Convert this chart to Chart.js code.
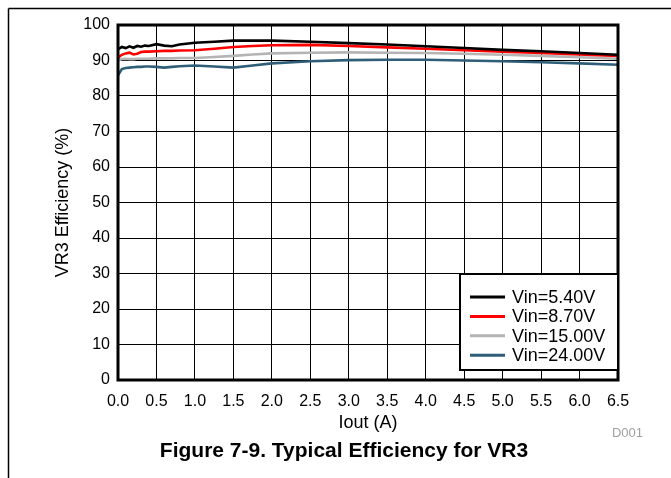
<!DOCTYPE html>
<html><head><meta charset="utf-8">
<script src="https://cdn.jsdelivr.net/npm/chart.js@4/dist/chart.umd.min.js"></script>
<style>html,body{margin:0;padding:0;background:#fff;} canvas{display:block;}</style>
</head><body>
<canvas id="c" width="671" height="478"></canvas>
<script>
// ---- data ----
const iout    = [0.0, 0.05, 0.1, 0.15, 0.2, 0.25, 0.3, 0.35, 0.4, 0.5, 0.6, 0.7, 0.8, 1.0, 1.25, 1.5, 1.75, 2.0, 2.5, 3.0, 3.5, 4.0, 4.5, 5.0, 5.5, 6.0, 6.5];
const eff5v40 = [93.2, 93.8, 93.5, 94.0, 93.6, 94.1, 93.9, 94.2, 94.1, 94.6, 94.2, 94.0, 94.5, 95.0, 95.3, 95.6, 95.6, 95.6, 95.3, 94.9, 94.5, 94.0, 93.5, 93.0, 92.6, 92.1, 91.6];
const eff8v70 = [90.8, 91.6, 92.0, 92.2, 91.7, 91.9, 92.4, 92.5, 92.5, 92.6, 92.7, 92.7, 92.8, 92.9, 93.3, 93.8, 94.1, 94.3, 94.4, 94.1, 93.7, 93.3, 92.9, 92.5, 92.1, 91.7, 91.3];
const eff15v  = [90.0, 90.4, 90.5, 90.4, 90.4, 90.5, 90.5, 90.5, 90.5, 90.6, 90.6, 90.6, 90.7, 90.7, 91.0, 91.3, 91.7, 92.0, 92.2, 92.3, 92.2, 92.1, 91.9, 91.6, 91.3, 90.9, 90.5];
const eff24v  = [85.8, 87.6, 87.9, 88.0, 88.1, 88.2, 88.2, 88.3, 88.3, 88.2, 88.0, 88.2, 88.4, 88.6, 88.3, 88.0, 88.6, 89.2, 89.8, 90.1, 90.2, 90.2, 90.0, 89.8, 89.5, 89.2, 88.8];
const seriesLabels = ['Vin=5.40V', 'Vin=8.70V', 'Vin=15.00V', 'Vin=24.00V'];
const seriesValues = [eff5v40, eff8v70, eff15v, eff24v];
const seriesColors = ['#000000', '#ff0000', '#b4b4b4', '#2f5f78'];
const xTicksMin = 0, xTicksMax = 6.5, xTickStep = 0.5;
const yTicksMin = 0, yTicksMax = 100, yTickStep = 10;
const xTitle = 'Iout (A)';
const yTitle = 'VR3 Efficiency (%)';
const figTitle = 'Figure 7-9. Typical Efficiency for VR3';
const figCode = 'D001';

const FONT = "'Liberation Sans', Arial, Helvetica, sans-serif";

const datasets = seriesValues.map((vals, k) => ({
  label: seriesLabels[k],
  data: iout.map((x, i) => ({x: x, y: vals[i]})),
  borderColor: seriesColors[k],
  backgroundColor: seriesColors[k],
  borderWidth: 2.6,
  pointRadius: 0,
  tension: 0,
  fill: false,
  order: k
}));

const decor = {
  id: 'decor',
  beforeDraw(chart) {
    const ctx = chart.ctx;
    ctx.save();
    ctx.fillStyle = '#fff';
    ctx.fillRect(0, 0, chart.width, chart.height);
    ctx.strokeStyle = '#000';
    ctx.lineWidth = 1.5;
    ctx.beginPath();
    ctx.moveTo(8.5, 8.5); ctx.lineTo(chart.width, 8.5);
    ctx.moveTo(8.5, 8.5); ctx.lineTo(8.5, chart.height);
    ctx.stroke();
    ctx.restore();
  },
  afterDraw(chart) {
    const ctx = chart.ctx;
    const a = chart.chartArea;
    ctx.save();
    // plot frame
    ctx.strokeStyle = '#000';
    ctx.lineWidth = 3;
    ctx.strokeRect(a.left, a.top, a.right - a.left, a.bottom - a.top);
    // legend box
    const lx = 460, ly = 274, lw = a.right - 460, lh = 96;
    ctx.fillStyle = '#fff';
    ctx.fillRect(lx, ly, lw, lh);
    ctx.lineWidth = 2;
    ctx.strokeRect(lx, ly, lw, lh);
    ctx.font = '18px ' + FONT;
    ctx.textBaseline = 'middle';
    ctx.textAlign = 'left';
    chart.data.datasets.forEach((ds, k) => {
      const y = 297 + k * 19.4;
      ctx.strokeStyle = ds.borderColor;
      ctx.lineWidth = 3;
      ctx.beginPath();
      ctx.moveTo(470, y); ctx.lineTo(505, y);
      ctx.stroke();
      ctx.fillStyle = '#000';
      ctx.fillText(ds.label, 512, y + 1);
    });
    // code
    ctx.font = '13px ' + FONT;
    ctx.fillStyle = '#a0a0a0';
    ctx.textAlign = 'right';
    ctx.fillText(figCode, 643, 433);
    // figure title
    ctx.font = 'bold 21px ' + FONT;
    ctx.fillStyle = '#000';
    ctx.textAlign = 'center';
    ctx.fillText(figTitle, 344, 451);
    ctx.restore();
  }
};

new Chart(document.getElementById('c'), {
  type: 'line',
  data: { datasets: datasets },
  options: {
    responsive: false,
    devicePixelRatio: 1,
    animation: false,
    layout: { padding: { left: 0, top: 25, right: 53, bottom: 0 } },
    plugins: { legend: { display: false }, tooltip: { enabled: false }, title: { display: false } },
    scales: {
      x: {
        type: 'linear',
        min: xTicksMin, max: xTicksMax,
        afterFit: s => { s.height = 98; },
        grid: { color: '#000', lineWidth: 1, drawTicks: false },
        border: { display: false },
        ticks: { stepSize: xTickStep, padding: 12, color: '#000', font: { family: FONT, size: 16 },
                 maxRotation: 0, autoSkip: false, callback: v => Number(v).toFixed(1) },
        title: { display: true, text: xTitle, color: '#000', font: { family: FONT, size: 18 }, padding: { top: 0, bottom: 44 } }
      },
      y: {
        min: yTicksMin, max: yTicksMax,
        afterFit: s => { s.width = 118; },
        grid: { color: '#000', lineWidth: 1, drawTicks: false },
        border: { display: false },
        ticks: { stepSize: yTickStep, padding: 8, color: '#000', font: { family: FONT, size: 16 } },
        title: { display: true, text: yTitle, color: '#000', font: { family: FONT, size: 18 }, padding: { top: 52, bottom: 0 } }
      }
    }
  },
  plugins: [decor]
});
</script>
</body></html>
